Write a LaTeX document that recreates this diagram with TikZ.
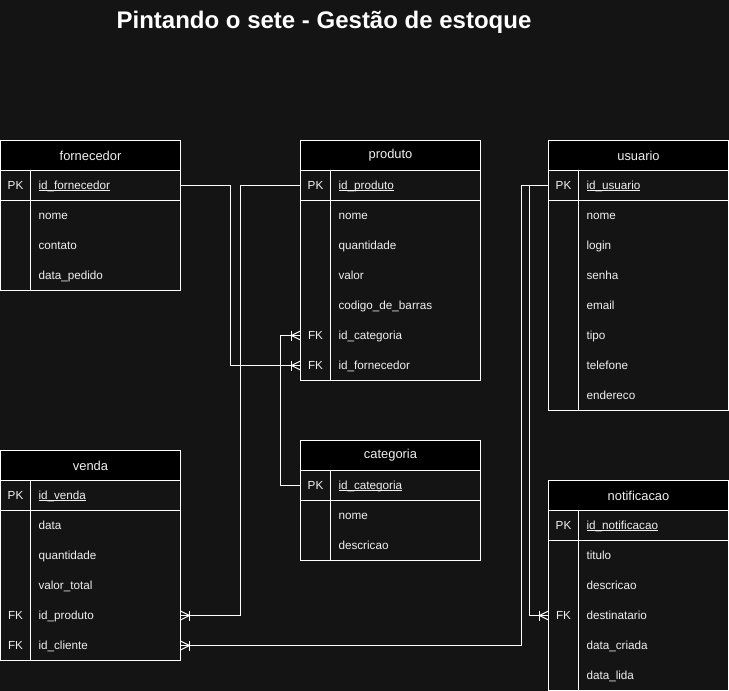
\documentclass[tikz,border=0pt]{standalone}
\usepackage{fontspec}
\setmainfont{Liberation Sans}
\usetikzlibrary{positioning,decorations.markings}
\definecolor{bg}{RGB}{20,20,20}
\definecolor{txt}{RGB}{240,240,240}
\newsavebox\pkbox
\newcommand\pkline[1]{\sbox\pkbox{#1}\rlap{\rule[-2pt]{\wd\pkbox}{0.8pt}}\usebox\pkbox}

\begin{document}
\begin{tikzpicture}[x=1pt, y=1pt, node distance=0pt, every node/.style={outer sep=0pt}]
  \tikzstyle{headcell} = [rectangle, draw=white, line width=1pt, fill=black, text=txt,
    minimum width=180pt, minimum height=30pt, inner sep=0pt, font=\fontsize{12.9}{15}\selectfont]
  \tikzstyle{keycell} = [rectangle, minimum width=30pt, minimum height=30pt, inner sep=0pt,
    text=txt, text height=9pt, text depth=2pt, font=\fontsize{11.7}{14}\selectfont]
  \tikzstyle{fieldcell} = [rectangle, minimum width=150pt, minimum height=30pt, inner sep=0pt,
    text width=134pt, align=left, text=txt, text height=9pt, text depth=2pt,
    font=\fontsize{11.7}{14}\selectfont]
  \tikzstyle{border} = [draw=white, line width=1pt]
  \tikzstyle{link} = [draw=white, line width=1pt]
  \tikzstyle{crowfoot} = [postaction={decorate, decoration={markings, mark=at position 1 with {
      \draw [white, line width=1pt] (-9,5) -- (-9,-5);
      \draw [white, line width=1pt] (0,4.5) -- (-9,0) -- (0,-4.5);}}}]

  \useasboundingbox (0,0) rectangle (729,-691);
  \fill [bg] (0,0) rectangle (729,-691);

  \node [white, font=\fontsize{24}{28}\selectfont\bfseries, anchor=base] (title) at (324,-28)
    {Pintando o sete - Gestão de estoque};

  % fornecedor
  \node [headcell, anchor=north west] (forn) at (0.5,-140.5) {fornecedor};
  \node [keycell, anchor=north west] (forn-k0) at (forn.south west) {PK};
  \node [fieldcell, right=0pt of forn-k0] (forn-f0) {\pkline{id\_fornecedor}};
  \foreach \k/\nm [count=\i, remember=\i as \j (initially 0)] in {/nome, /contato, /data\_pedido} {
    \node [keycell, below=0pt of forn-k\j] (forn-k\i) {\k};
    \node [fieldcell, right=0pt of forn-k\i] (forn-f\i) {\nm};
  }
  \draw [border] (forn.north west) rectangle (forn-f3.south east);
  \draw [border] (forn-k0.north east) -- (forn-k3.south east);
  \draw [border] (forn-k0.south west) -- (forn-f0.south east);

  % produto
  \node [headcell, anchor=north west] (prod) at (300.5,-140.5) {produto};
  \node [keycell, anchor=north west] (prod-k0) at (prod.south west) {PK};
  \node [fieldcell, right=0pt of prod-k0] (prod-f0) {\pkline{id\_produto}};
  \foreach \k/\nm [count=\i, remember=\i as \j (initially 0)] in {/nome, /quantidade, /valor,
      /codigo\_de\_barras, FK/id\_categoria, FK/id\_fornecedor} {
    \node [keycell, below=0pt of prod-k\j] (prod-k\i) {\k};
    \node [fieldcell, right=0pt of prod-k\i] (prod-f\i) {\nm};
  }
  \draw [border] (prod.north west) rectangle (prod-f6.south east);
  \draw [border] (prod-k0.north east) -- (prod-k6.south east);
  \draw [border] (prod-k0.south west) -- (prod-f0.south east);

  % usuario
  \node [headcell, anchor=north west] (usr) at (548.5,-140.5) {usuario};
  \node [keycell, anchor=north west] (usr-k0) at (usr.south west) {PK};
  \node [fieldcell, right=0pt of usr-k0] (usr-f0) {\pkline{id\_usuario}};
  \foreach \k/\nm [count=\i, remember=\i as \j (initially 0)] in {/nome, /login, /senha,
      /email, /tipo, /telefone, /endereco} {
    \node [keycell, below=0pt of usr-k\j] (usr-k\i) {\k};
    \node [fieldcell, right=0pt of usr-k\i] (usr-f\i) {\nm};
  }
  \draw [border] (usr.north west) rectangle (usr-f7.south east);
  \draw [border] (usr-k0.north east) -- (usr-k7.south east);
  \draw [border] (usr-k0.south west) -- (usr-f0.south east);

  % venda
  \node [headcell, anchor=north west] (vend) at (0.5,-450.5) {venda};
  \node [keycell, anchor=north west] (vend-k0) at (vend.south west) {PK};
  \node [fieldcell, right=0pt of vend-k0] (vend-f0) {\pkline{id\_venda}};
  \foreach \k/\nm [count=\i, remember=\i as \j (initially 0)] in {/data, /quantidade,
      /valor\_total, FK/id\_produto, FK/id\_cliente} {
    \node [keycell, below=0pt of vend-k\j] (vend-k\i) {\k};
    \node [fieldcell, right=0pt of vend-k\i] (vend-f\i) {\nm};
  }
  \draw [border] (vend.north west) rectangle (vend-f5.south east);
  \draw [border] (vend-k0.north east) -- (vend-k5.south east);
  \draw [border] (vend-k0.south west) -- (vend-f0.south east);

  % categoria
  \node [headcell, anchor=north west] (cat) at (300.5,-440.5) {categoria};
  \node [keycell, anchor=north west] (cat-k0) at (cat.south west) {PK};
  \node [fieldcell, right=0pt of cat-k0] (cat-f0) {\pkline{id\_categoria}};
  \foreach \k/\nm [count=\i, remember=\i as \j (initially 0)] in {/nome, /descricao} {
    \node [keycell, below=0pt of cat-k\j] (cat-k\i) {\k};
    \node [fieldcell, right=0pt of cat-k\i] (cat-f\i) {\nm};
  }
  \draw [border] (cat.north west) rectangle (cat-f2.south east);
  \draw [border] (cat-k0.north east) -- (cat-k2.south east);
  \draw [border] (cat-k0.south west) -- (cat-f0.south east);

  % notificacao
  \node [headcell, anchor=north west] (notif) at (548.5,-480.5) {notificacao};
  \node [keycell, anchor=north west] (notif-k0) at (notif.south west) {PK};
  \node [fieldcell, right=0pt of notif-k0] (notif-f0) {\pkline{id\_notificacao}};
  \foreach \k/\nm [count=\i, remember=\i as \j (initially 0)] in {/titulo, /descricao,
      FK/destinatario, /data\_criada, /data\_lida} {
    \node [keycell, below=0pt of notif-k\j] (notif-k\i) {\k};
    \node [fieldcell, right=0pt of notif-k\i] (notif-f\i) {\nm};
  }
  \draw [border] (notif.north west) rectangle (notif-f5.south east);
  \draw [border] (notif-k0.north east) -- (notif-k5.south east);
  \draw [border] (notif-k0.south west) -- (notif-f0.south east);

  % relations
  \path [link, crowfoot] (forn-f0.east) -- ++(50,0) |- (prod-k6.west);
  \path [link, crowfoot] (prod-k0.west) -- ++(-60,0) |- (vend-f4.east);
  \path [link, crowfoot] (cat-k0.west) -- ++(-20,0) |- (prod-k5.west);
  \path [link, crowfoot] (usr-k0.west) -- ++(-27,0) |- (vend-f5.east);
  \path [link, crowfoot] (usr-k0.west) -- ++(-19,0) |- (notif-k3.west);
\end{tikzpicture}
\end{document}
